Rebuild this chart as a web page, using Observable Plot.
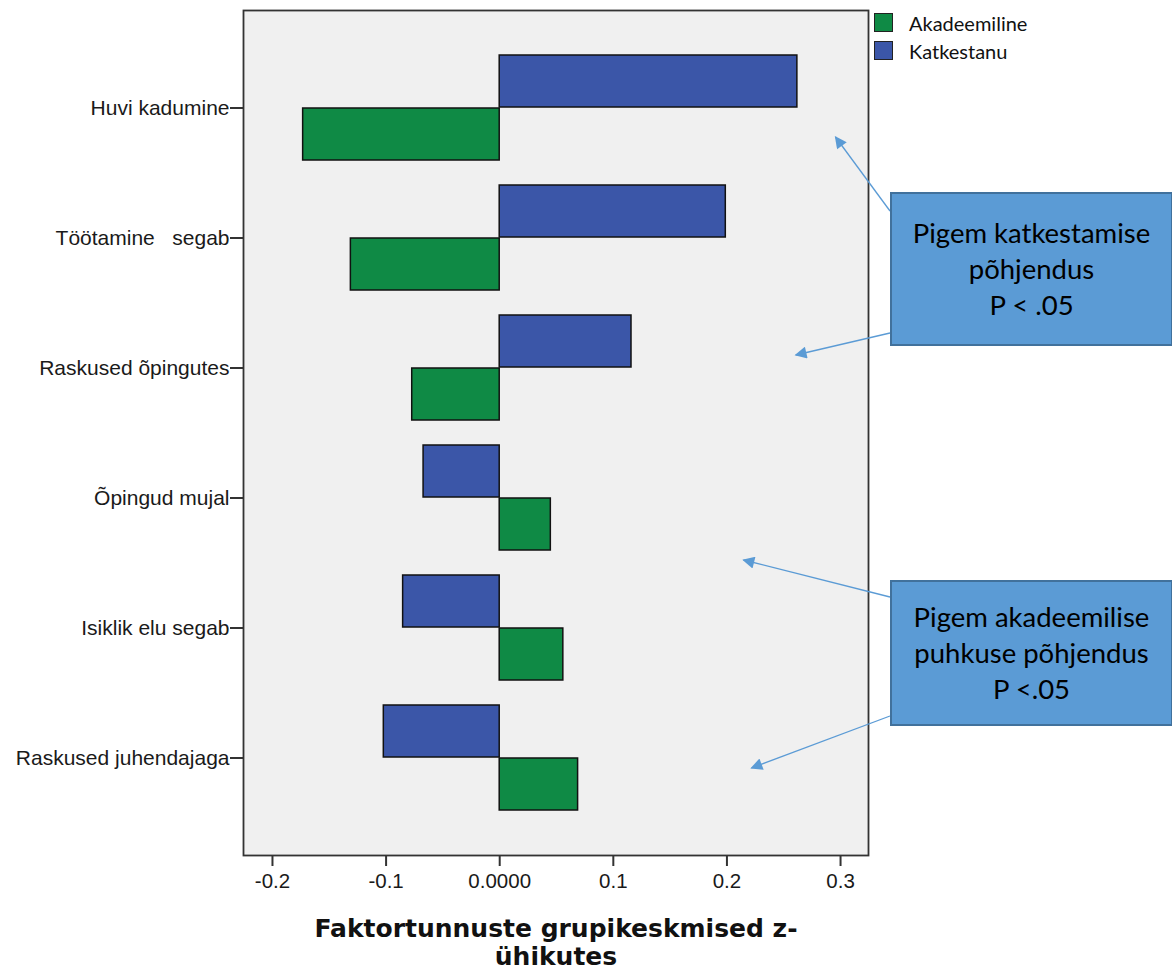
<!DOCTYPE html>
<html>
<head>
<meta charset="utf-8">
<script src="https://cdn.jsdelivr.net/npm/d3@7"></script>
<script src="https://cdn.jsdelivr.net/npm/@observablehq/plot@0.6"></script>
<style>
  html, body { margin: 0; padding: 0; background: #fff; }
  #wrap { position: relative; width: 1172px; height: 971px; overflow: hidden; }
  .box { position: absolute; box-sizing: border-box; background: #5b9bd5; border: 2px solid #41719c;
         display: flex; align-items: center; justify-content: center; text-align: center;
         font-family: Lato, "Open Sans", sans-serif; font-size: 27.5px; line-height: 36px; color: #000; }
  .leg { position: absolute; font-family: Lato, "Open Sans", sans-serif; font-size: 20px; color: #111; }
  .leg .sw { position: absolute; width: 17px; height: 17px; border: 1.5px solid #222; }
  .leg .lb { position: absolute; white-space: nowrap; line-height: 20px; }
</style>
</head>
<body>
<div id="wrap"></div>
<script>
// ---- data ----
const categories = ["Huvi kadumine", "Töötamine\u00a0\u00a0 segab", "Raskused õpingutes", "Õpingud mujal", "Isiklik elu segab", "Raskused juhendajaga"];
const katkestanu = [0.262, 0.199, 0.116, -0.067, -0.085, -0.102];
const akadeemiline = [-0.173, -0.131, -0.077, 0.045, 0.056, 0.069];
const groups = ["Akadeemiline", "Katkestanu"];
const groupColors = ["#0f8a45", "#3b56a8"];
const xTicks = [-0.2, -0.1, 0, 0.1, 0.2, 0.3];
const xTickLabels = ["-0.2", "-0.1", "0.0000", "0.1", "0.2", "0.3"];
const xLabel = "Faktortunnuste grupikeskmised z-\nühikutes";
const annotations = [
  {text: "Pigem katkestamise\npõhjendus\nP < .05"},
  {text: "Pigem akadeemilise\npuhkuse põhjendus\nP <.05"}
];

const rows = [];
categories.forEach((c, i) => {
  rows.push({cat: c, group: "Katkestanu", value: katkestanu[i]});
  rows.push({cat: c, group: "Akadeemiline", value: akadeemiline[i]});
});

const half = 53;
const plot = Plot.plot({
  width: 1172,
  height: 971,
  marginLeft: 243,
  marginRight: 304,
  marginTop: 10,
  marginBottom: 116,
  style: {fontFamily: "'Liberation Sans', Arial, sans-serif", fontSize: "21px", color: "#222", background: "#fff"},
  x: {domain: [-0.2255, 0.3246]},
  y: {domain: categories, paddingInner: 0.19, paddingOuter: 0.325},
  color: {domain: groups, range: groupColors},
  marks: [
    Plot.frame({fill: "#f0f0f0"}),
    Plot.barX(rows.filter(d => d.group === "Katkestanu"), {x1: 0, x2: "value", y: "cat", fill: "group", stroke: "#111", strokeWidth: 1.5, insetBottom: half}),
    Plot.barX(rows.filter(d => d.group === "Akadeemiline"), {x1: 0, x2: "value", y: "cat", fill: "group", stroke: "#111", strokeWidth: 1.5, insetTop: half}),
    Plot.frame({stroke: "#333", strokeWidth: 1.8}),
    Plot.axisY({tickSize: 13, tickPadding: 1, stroke: "#333", strokeWidth: 2, label: null, fontSize: 21, fill: "#1a1a1a"}),
    Plot.axisX({ticks: xTicks, tickSize: 11, tickPadding: 7, stroke: "#333", strokeWidth: 2, label: null,
                tickFormat: d => xTickLabels[xTicks.indexOf(d)], fontSize: 20.5, fill: "#1a1a1a"}),
    Plot.text([xLabel], {frameAnchor: "bottom", dy: 62, text: d => d, lineAnchor: "top", lineHeight: 1.12,
                fontFamily: "'DejaVu Sans', sans-serif", fontSize: 25, fontWeight: "bold", fill: "#111"})
  ]
});
const wrap = document.getElementById("wrap");
wrap.appendChild(plot);

// ---- arrows overlay ----
const xs = plot.scale("x");
const over = d3.select(wrap).append("svg")
  .attr("width", 1172).attr("height", 971)
  .style("position", "absolute").style("left", 0).style("top", 0).style("pointer-events", "none");
over.append("defs").append("marker")
  .attr("id", "ah").attr("viewBox", "0 0 10 10").attr("refX", 9).attr("refY", 5)
  .attr("markerWidth", 15).attr("markerHeight", 12).attr("markerUnits", "userSpaceOnUse")
  .attr("orient", "auto")
  .append("path").attr("d", "M0,0L10,5L0,10Z").attr("fill", "#5b9bd5");
const arrows = [
  [890, 211, xs.apply(0.296), 137],
  [890, 333, xs.apply(0.261), 355],
  [890, 597, xs.apply(0.215), 560],
  [890, 716, xs.apply(0.222), 768]
];
arrows.forEach(a => {
  over.append("line").attr("x1", a[0]).attr("y1", a[1]).attr("x2", a[2]).attr("y2", a[3])
    .attr("stroke", "#5b9bd5").attr("stroke-width", 1.3).attr("marker-end", "url(#ah)");
});

// ---- annotation boxes ----
const boxPos = [{left: 890, top: 192, width: 283, height: 154}, {left: 890, top: 580, width: 283, height: 146}];
annotations.forEach((a, i) => {
  const b = document.createElement("div");
  b.className = "box";
  Object.assign(b.style, {left: boxPos[i].left + "px", top: boxPos[i].top + "px", width: boxPos[i].width + "px", height: boxPos[i].height + "px"});
  b.innerHTML = a.text.split("\n").join("<br>");
  wrap.appendChild(b);
});

// ---- legend ----
groups.forEach((g, i) => {
  const l = document.createElement("div");
  l.className = "leg";
  l.style.left = "874px";
  l.style.top = (13 + i * 28) + "px";
  l.innerHTML = `<div class="sw" style="background:${groupColors[i]};left:0;top:0"></div><div class="lb" style="left:35px;top:0px">${g}</div>`;
  wrap.appendChild(l);
});
</script>
</body>
</html>
